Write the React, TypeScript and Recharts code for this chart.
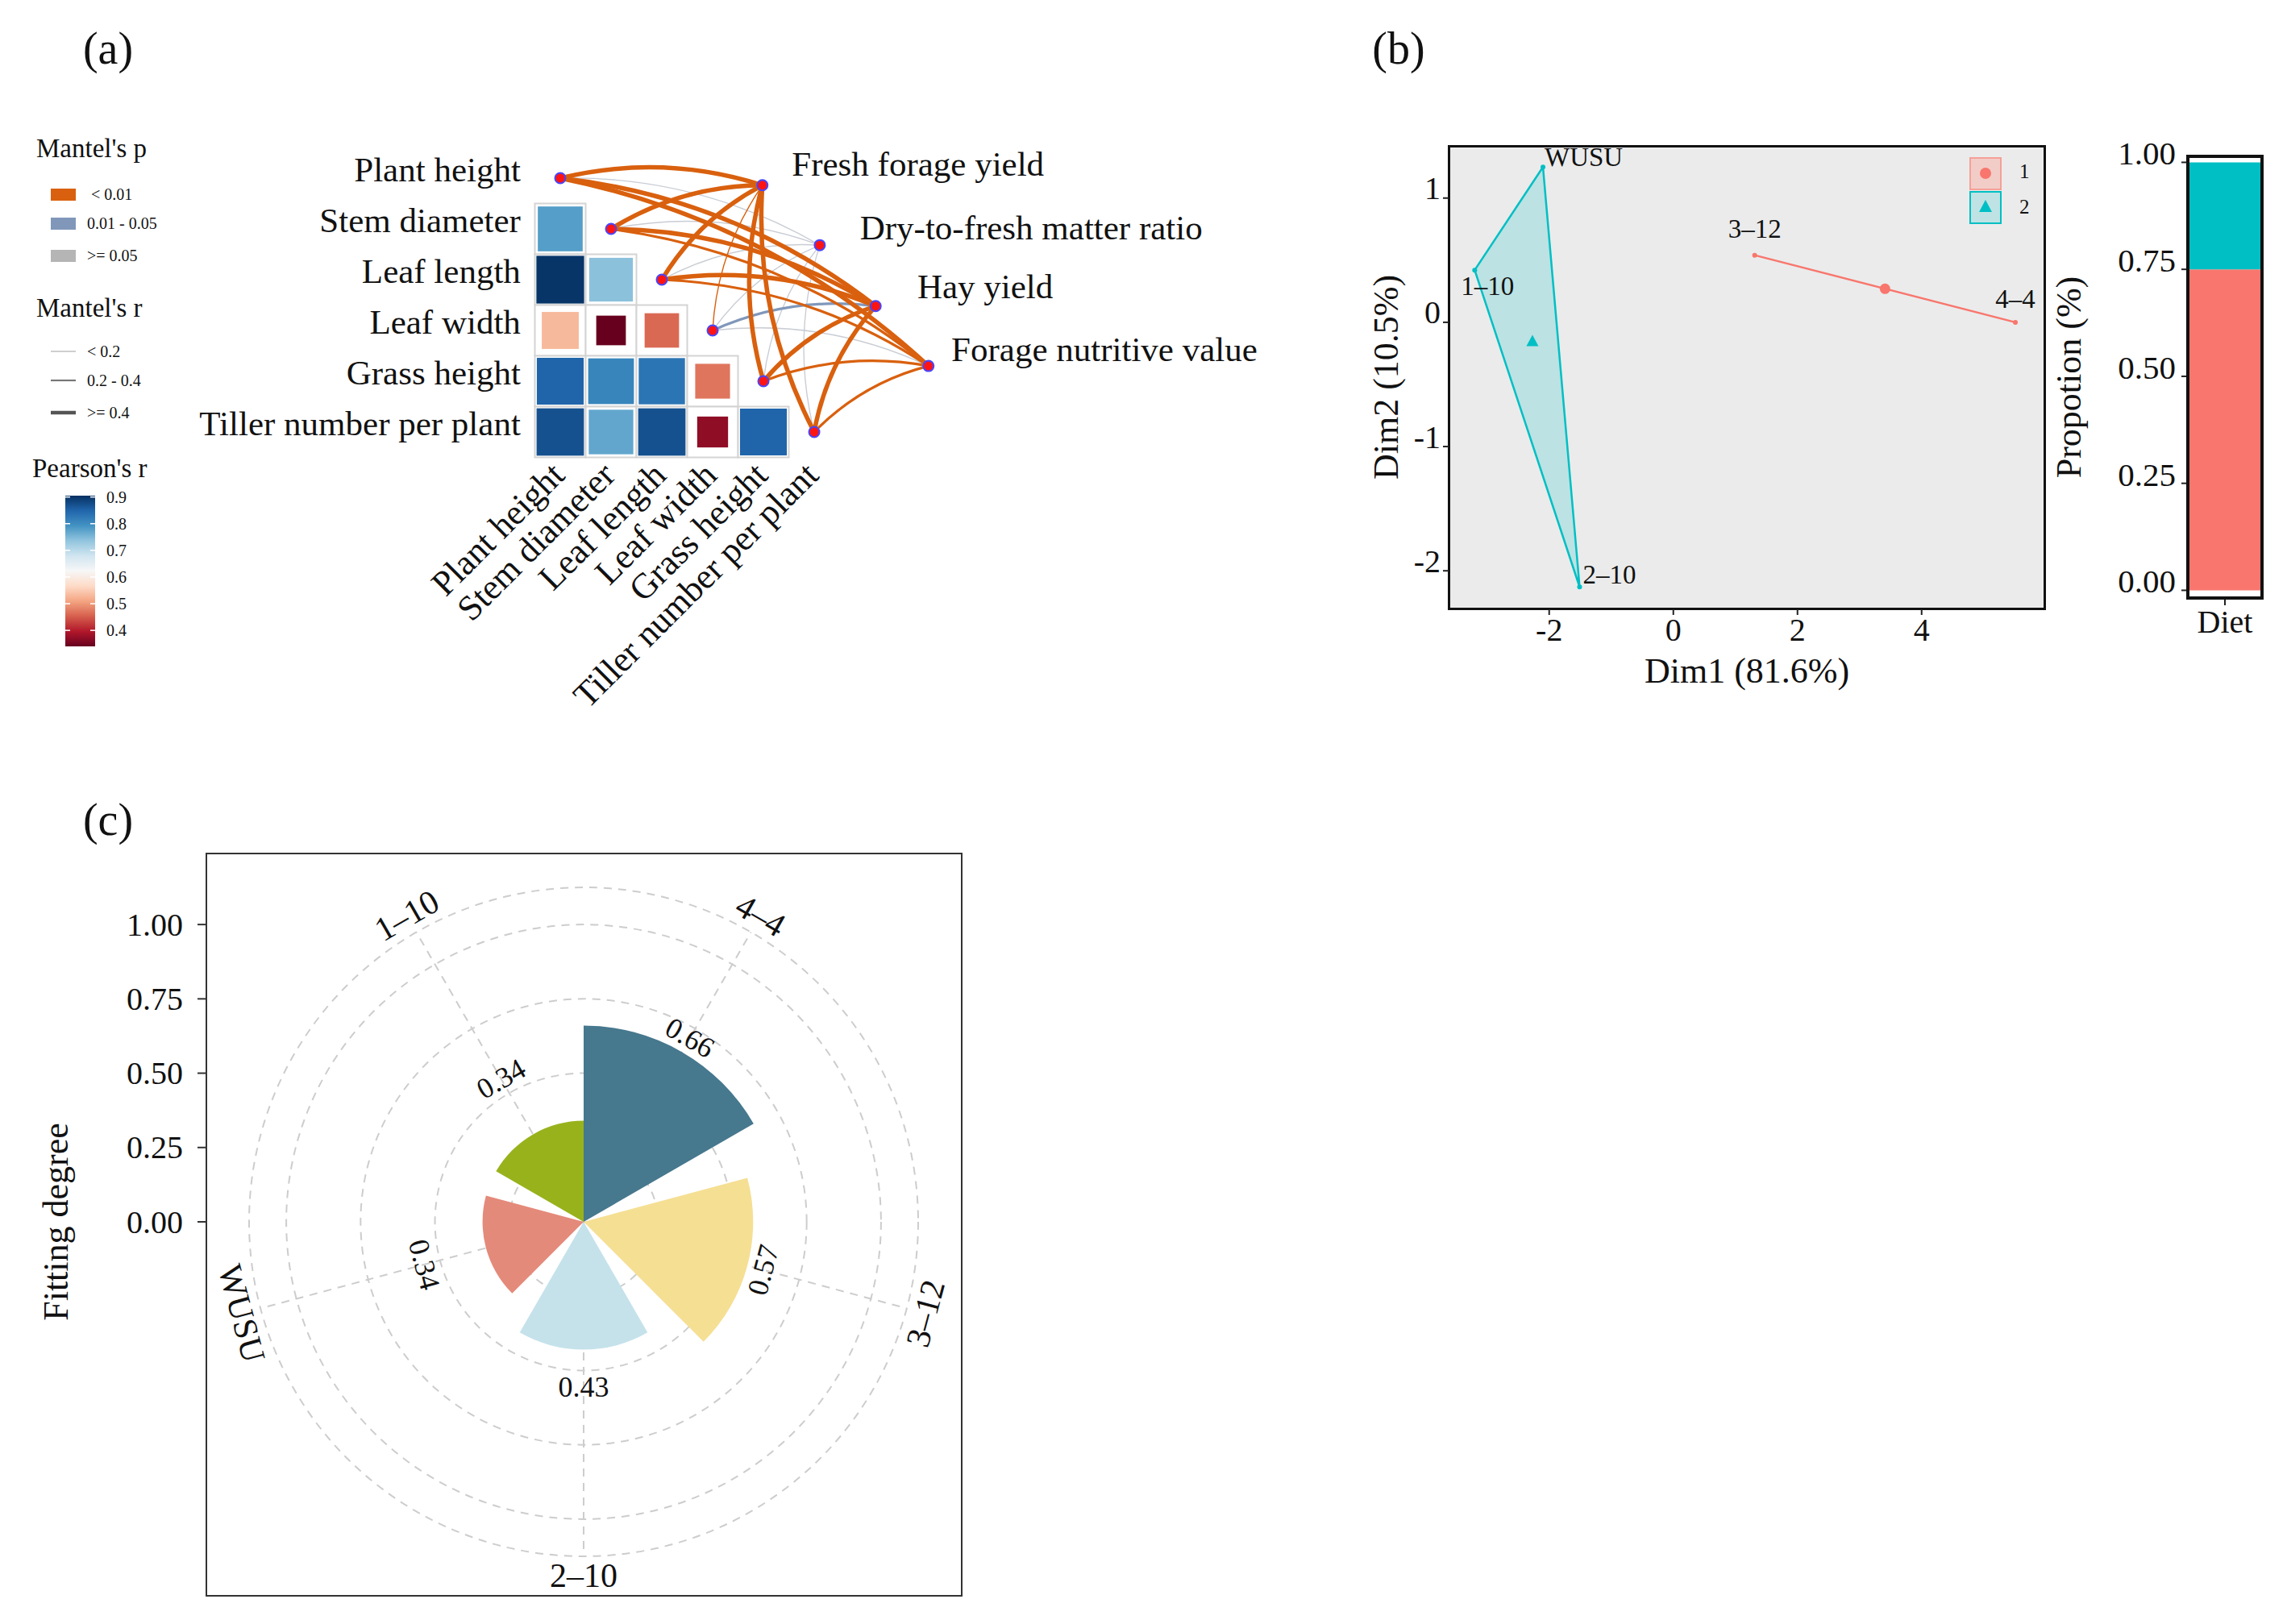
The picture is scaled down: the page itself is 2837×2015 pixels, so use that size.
import React from 'react';
import {
  ScatterChart, Scatter, XAxis, YAxis, BarChart, Bar, RadialBarChart, RadialBar,
  PolarAngleAxis, PolarRadiusAxis, PolarGrid, Cell, LabelList, ComposedChart,
} from 'recharts';

const SERIF = '"Liberation Serif", "Times New Roman", serif';
const INK = '#111111';

// ================= Panel (a) data =================
const traitNames = ['Plant height', 'Stem diameter', 'Leaf length', 'Leaf width', 'Grass height', 'Tiller number per plant'];
// Pearson's r, lower triangle (row i, column j < i)
const pearsonLower: number[][] = [
  [],
  [0.78],
  [0.90, 0.74],
  [0.53, 0.34, 0.46],
  [0.85, 0.81, 0.83, 0.47],
  [0.87, 0.77, 0.87, 0.37, 0.85],
];
const envNames = ['Fresh forage yield', 'Dry-to-fresh matter ratio', 'Hay yield', 'Forage nutritive value'];
const mantelR: number[][] = [
  [0.46, 0.48, 0.47, 0.15, 0.45, 0.47],
  [0.08, 0.10, 0.09, 0.14, 0.07, 0.12],
  [0.50, 0.49, 0.48, 0.22, 0.46, 0.45],
  [0.42, 0.36, 0.33, 0.12, 0.32, 0.31],
];
const mantelP: number[][] = [
  [0.001, 0.001, 0.001, 0.006, 0.001, 0.001],
  [0.42, 0.31, 0.55, 0.21, 0.63, 0.38],
  [0.001, 0.001, 0.001, 0.034, 0.001, 0.002],
  [0.003, 0.004, 0.006, 0.27, 0.005, 0.008],
];
// network layout (grid units: one unit = one heatmap cell)
const envNodePos = [{ x: 3.98, y: 0.14 }, { x: 5.11, y: 1.32 }, { x: 6.21, y: 2.52 }, { x: 7.25, y: 3.70 }];
const envLabelPos = [{ x: 4.56, y: -0.27 }, { x: 5.90, y: 0.97 }, { x: 7.03, y: 2.13 }, { x: 7.70, y: 3.38 }];

// ================= Panel (b) data =================
const pcaNames = ['WUSU', '1–10', '2–10', '3–12', '4–4'];
const pcaDim1 = [-2.10, -3.20, -1.51, 1.31, 5.51];
const pcaDim2 = [1.25, 0.42, -2.13, 0.54, 0.0];
const pcaCluster = [2, 2, 2, 1, 1];
const pcaXTicks = [-2, 0, 2, 4];
const pcaYTicks = [-2, -1, 0, 1];
const dietCategories = ['Diet'];
const dietCluster1 = [0.75];
const dietCluster2 = [0.25];
const propTicks = [0, 0.25, 0.5, 0.75, 1];

// ================= Panel (c) data =================
const fitNames = ['4–4', '3–12', '2–10', 'WUSU', '1–10'];
const fitValues = [0.66, 0.57, 0.43, 0.34, 0.34];
const fitColors = ['#46788E', '#F5DF93', '#C5E2EB', '#E48A7A', '#98B21C'];
const fitTicks = [0, 0.25, 0.5, 0.75, 1];

// ================= helpers =================
const RDBU = ['#67001F', '#B2182B', '#D6604D', '#F4A582', '#FDDBC7', '#F7F7F7', '#D1E5F0', '#92C5DE', '#4393C3', '#2166AC', '#053061'];
const P_MIN = 0.34, P_MAX = 0.905;
function hexToRgb(h: string) { const n = parseInt(h.slice(1), 16); return [(n >> 16) & 255, (n >> 8) & 255, n & 255]; }
function mix(a: string, b: string, t: number) {
  const A = hexToRgb(a), B = hexToRgb(b);
  const c = A.map((v, i) => Math.round(v + (B[i] - v) * t));
  return `rgb(${c[0]},${c[1]},${c[2]})`;
}
function pearsonColor(r: number) {
  let t = (r - P_MIN) / (P_MAX - P_MIN);
  t = Math.max(0, Math.min(1, t));
  const idx = t * (RDBU.length - 1);
  const i = Math.min(Math.floor(idx), RDBU.length - 2);
  return mix(RDBU[i], RDBU[i + 1], idx - i);
}
const ORANGE = '#D9600E', BLUEGREY = '#8097BA', LIGHTGREY = '#C9CDD4';
function linkColor(p: number) { return p < 0.01 ? ORANGE : p < 0.05 ? BLUEGREY : LIGHTGREY; }
function linkWidth(r: number) { return r >= 0.4 ? 5.5 : r >= 0.2 ? 3.2 : 1.4; }

// ================= Panel (a) geometry =================
const A_W = 1600, A_H = 1000, A_UNIT = 63, A_OX = 695, A_OY = 221;
const aXDomain = [-A_OX / A_UNIT, (A_W - A_OX) / A_UNIT];
const aYDomain = [-A_OY / A_UNIT, (A_H - A_OY) / A_UNIT];
const LINK_CURV = 0.14;

const cellData = pearsonLower.flatMap((row, i) => row.map((r, j) => ({ x: j, y: i, r })));
const traitNodes = traitNames.map((n, i) => ({ x: i, y: i, name: n }));
const envNodes = envNames.map((n, k) => ({ x: envNodePos[k].x, y: envNodePos[k].y, name: n }));
const rowLabels = traitNames.map((n, i) => ({ x: -0.78, y: i - 0.17, name: n }));
const colLabels = traitNames.map((n, i) => ({ x: i + 0.12, y: 5.89, name: n }));
const envLabels = envNames.map((n, k) => ({ x: envLabelPos[k].x, y: envLabelPos[k].y, name: n }));
const links = envNames.flatMap((_, k) => traitNames.map((__, i) => ({ k, i, r: mantelR[k][i], p: mantelP[k][i] })))
  .sort((a, b) => {
    const rank = (l: any) => (l.p < 0.01 ? 2 : l.p < 0.05 ? 1 : 0);
    return rank(a) - rank(b) || a.r - b.r;
  });

const CellShape = (props: any) => {
  const { cx, cy, payload } = props;
  const u = A_UNIT;
  const s = Math.min(0.94, Math.sqrt(payload.r)) * u;
  return (
    <g>
      <rect x={cx - u / 2} y={cy - u / 2} width={u} height={u} fill="#fff" stroke="#D4D4D4" strokeWidth={2} />
      <rect x={cx - s / 2} y={cy - s / 2} width={s} height={s} fill={pearsonColor(payload.r)} />
    </g>
  );
};
const emptyShape = () => <g />;
const curvedLink = (stroke: string, width: number) => (props: any) => {
  const pts = props.points || [];
  if (pts.length < 2) return <g />;
  const a = pts[0], b = pts[1];
  const dx = b.x - a.x, dy = b.y - a.y;
  const qx = (a.x + b.x) / 2 - dy * LINK_CURV;
  const qy = (a.y + b.y) / 2 + dx * LINK_CURV;
  return <path d={`M${a.x},${a.y}Q${qx},${qy} ${b.x},${b.y}`} fill="none" stroke={stroke} strokeWidth={width} strokeLinecap="round" />;
};
const NodeShape = (props: any) => <circle cx={props.cx} cy={props.cy} r={6.5} fill="#FF1414" stroke="#4646FF" strokeWidth={2} />;
const RowLabelShape = (props: any) => (
  <text x={props.cx} y={props.cy} textAnchor="end" dominantBaseline="central" fontSize={43} fontFamily={SERIF} fill={INK}>{props.payload.name}</text>
);
const ColLabelShape = (props: any) => (
  <text x={props.cx} y={props.cy} textAnchor="end" fontSize={44} fontFamily={SERIF} fill={INK} transform={`rotate(-45 ${props.cx} ${props.cy})`}>{props.payload.name}</text>
);
const EnvLabelShape = (props: any) => (
  <text x={props.cx} y={props.cy} textAnchor="start" dominantBaseline="central" fontSize={43} fontFamily={SERIF} fill={INK}>{props.payload.name}</text>
);

function PanelA() {
  return (
    <div style={{ position: 'absolute', left: 0, top: 0 }}>
      <ScatterChart width={A_W} height={A_H} margin={{ top: 0, right: 0, bottom: 0, left: 0 }}>
        <XAxis type="number" dataKey="x" domain={aXDomain} hide allowDataOverflow />
        <YAxis type="number" dataKey="y" domain={aYDomain} hide reversed allowDataOverflow />
        <Scatter data={cellData} shape={CellShape} isAnimationActive={false} />
        {links.map((l, idx) => (
          <Scatter key={`lk${idx}`} data={[{ x: envNodePos[l.k].x, y: envNodePos[l.k].y }, { x: l.i, y: l.i }]}
            line={curvedLink(linkColor(l.p), linkWidth(l.r))} shape={emptyShape} isAnimationActive={false} />
        ))}
        <Scatter data={[...traitNodes, ...envNodes]} shape={NodeShape} isAnimationActive={false} />
        <Scatter data={rowLabels} shape={RowLabelShape} isAnimationActive={false} />
        <Scatter data={colLabels} shape={ColLabelShape} isAnimationActive={false} />
        <Scatter data={envLabels} shape={EnvLabelShape} isAnimationActive={false} />
      </ScatterChart>
    </div>
  );
}

// ================= Panel (b) PCA =================
const pcaPoints = pcaNames.map((n, i) => ({ name: n, x: pcaDim1[i], y: pcaDim2[i], cluster: pcaCluster[i] }));
const cl1 = pcaPoints.filter((p) => p.cluster === 1);
const cl2 = pcaPoints.filter((p) => p.cluster === 2);
const centroidOf = (arr: any[]) => ({ x: arr.reduce((s, p) => s + p.x, 0) / arr.length, y: arr.reduce((s, p) => s + p.y, 0) / arr.length });
const TEAL = '#00BFC4', SALMON = '#F8766D';
const pcaLabelPlacement: Record<string, { anchor: string; dx: number; dy: number }> = {
  'WUSU': { anchor: 'start', dx: 2, dy: -12 },
  '1–10': { anchor: 'middle', dx: 16, dy: 20 },
  '2–10': { anchor: 'start', dx: 4, dy: -15 },
  '3–12': { anchor: 'middle', dx: 0, dy: -33 },
  '4–4': { anchor: 'middle', dx: 0, dy: -29 },
};
const vertexShape = (color: string) => (props: any) => {
  const pl = pcaLabelPlacement[props.payload.name];
  return (
    <g>
      <circle cx={props.cx} cy={props.cy} r={3} fill={color} />
      <text x={props.cx + pl.dx} y={props.cy + pl.dy} textAnchor={pl.anchor as any} dominantBaseline="central" fontSize={33} fontFamily={SERIF} fill={INK}>{props.payload.name}</text>
    </g>
  );
};
const hullLine = (props: any) => {
  const pts = props.points || [];
  if (!pts.length) return <g />;
  const d = pts.map((p: any, i: number) => `${i ? 'L' : 'M'}${p.x},${p.y}`).join('') + 'Z';
  return <path d={d} fill={TEAL} fillOpacity={0.2} stroke={TEAL} strokeWidth={2.5} strokeLinejoin="round" />;
};
const segLine = (props: any) => {
  const pts = props.points || [];
  if (!pts.length) return <g />;
  const d = pts.map((p: any, i: number) => `${i ? 'L' : 'M'}${p.x},${p.y}`).join('');
  return <path d={d} fill="none" stroke={SALMON} strokeWidth={2.5} />;
};
const CentroidCircle = (props: any) => <circle cx={props.cx} cy={props.cy} r={6.5} fill={SALMON} />;
const CentroidTriangle = (props: any) => <path d={`M${props.cx},${props.cy - 8}L${props.cx + 7.5},${props.cy + 6}L${props.cx - 7.5},${props.cy + 6}Z`} fill={TEAL} />;

const YTickLeft = (size: number, dy: number, fmt: (v: number) => string) => (props: any) => (
  <text x={props.x} y={props.y + dy} textAnchor="end" dominantBaseline="central" fontSize={size} fontFamily={SERIF} fill={INK}>{fmt(props.payload.value)}</text>
);
const XTickBelow = (size: number, fmt: (v: any) => string) => (props: any) => (
  <text x={props.x} y={props.y + size * 0.42} textAnchor="middle" dominantBaseline="central" fontSize={size} fontFamily={SERIF} fill={INK}>{fmt(props.payload.value)}</text>
);

function PanelBScatter() {
  return (
    <>
      <div style={{ position: 'absolute', left: 1796, top: 180, width: 742, height: 577, boxSizing: 'border-box', background: '#EBEBEB', border: '3px solid #111' }} />
      <div style={{ position: 'absolute', left: 1640, top: 150 }}>
        <ScatterChart width={910} height={730} margin={{ top: 31, right: 13, bottom: 0, left: 0 }}>
          <XAxis type="number" dataKey="x" domain={[-3.62, 5.99]} ticks={pcaXTicks} allowDataOverflow height={124}
            axisLine={false} tickSize={7} tickMargin={2} tickLine={{ stroke: '#222', strokeWidth: 2 }} tick={XTickBelow(40, (v) => String(v))} />
          <YAxis type="number" dataKey="y" domain={[-2.31, 1.42]} ticks={pcaYTicks} allowDataOverflow width={157}
            axisLine={false} tickSize={7} tickMargin={3} tickLine={{ stroke: '#222', strokeWidth: 2 }} tick={YTickLeft(40, -12, (v) => String(v))} />
          <Scatter data={cl2} line={hullLine} shape={vertexShape(TEAL)} isAnimationActive={false} />
          <Scatter data={cl1} line={segLine} shape={vertexShape(SALMON)} isAnimationActive={false} />
          <Scatter data={[centroidOf(cl1)]} shape={CentroidCircle} isAnimationActive={false} />
          <Scatter data={[centroidOf(cl2)]} shape={CentroidTriangle} isAnimationActive={false} />
        </ScatterChart>
      </div>
    </>
  );
}

const dietData = dietCategories.map((c, i) => ({ name: c, c1: dietCluster1[i], c2: dietCluster2[i] }));
function PanelBBar() {
  return (
    <>
      <div style={{ position: 'absolute', left: 2540, top: 150 }}>
        <BarChart width={280} height={700} data={dietData} margin={{ top: 44, right: 14, bottom: 0, left: 0 }} barCategoryGap="1%">
          <XAxis dataKey="name" height={108} axisLine={false} tickSize={9} tickMargin={4} tickLine={{ stroke: '#222', strokeWidth: 2 }} tick={XTickBelow(40, (v) => String(v))} />
          <YAxis type="number" domain={[-0.018, 1.014]} ticks={propTicks} allowDataOverflow width={174}
            axisLine={false} tickSize={8} tickMargin={7} tickLine={{ stroke: '#222', strokeWidth: 2 }} tick={YTickLeft(41, -11, (v) => v.toFixed(2))} />
          <Bar dataKey="c1" stackId="s" fill={SALMON} isAnimationActive={false} />
          <Bar dataKey="c2" stackId="s" fill={TEAL} isAnimationActive={false} />
        </BarChart>
      </div>
      <div style={{ position: 'absolute', left: 2712, top: 192, width: 96, height: 552, boxSizing: 'border-box', border: '4px solid #111' }} />
    </>
  );
}

// ================= Panel (c) =================
const C_LEFT = 255, C_TOP = 1058, C_W = 939, C_H = 923;
const C_CX = 469, C_CY = 458, C_R = 415, C_RMAX = 1.125;
const ANGLE_START = 22.5, ANGLE_END = -352.5;
const polarUnit = C_R / C_RMAX;
const fitData = fitNames.map((n, i) => ({ name: n, value: fitValues[i] }));
const bandStep = (ANGLE_START - ANGLE_END) / fitNames.length;
const spokeAngles = fitNames.map((_, k) => ANGLE_START + bandStep / 2 - bandStep * k);
function tangentRotation(angleDeg: number) {
  let rot = 90 - angleDeg;
  rot = ((rot % 360) + 360) % 360;
  if (rot > 180) rot -= 360;
  if (rot > 90) rot -= 180;
  if (rot < -90) rot += 180;
  return rot;
}
function polarLabel(props: any, radiusValue: number, text: string, size: number) {
  const vb = props.viewBox || props;
  const cx = vb.cx, cy = vb.cy;
  const mid = (vb.startAngle + vb.endAngle) / 2;
  const r = polarUnit * radiusValue;
  const rad = (-mid * Math.PI) / 180;
  const x = cx + r * Math.cos(rad), y = cy + r * Math.sin(rad);
  const rot = tangentRotation(mid);
  return (
    <text x={x} y={y} textAnchor="middle" dominantBaseline="central" fontSize={size} fontFamily={SERIF} fill={INK} transform={`rotate(${rot} ${x} ${y})`}>{text}</text>
  );
}
const renderValueLabel = (props: any) => {
  const v = Number(props.value);
  return polarLabel(props, Math.max(v, 0.5) + 0.055, v.toFixed(2), 36);
};
const renderNameLabel = (props: any) => polarLabel(props, 1.19, String(props.value), 42);

function PanelC() {
  return (
    <>
      <div style={{ position: 'absolute', left: C_LEFT, top: C_TOP }}>
        <RadialBarChart width={C_W} height={C_H} cx={C_CX} cy={C_CY} innerRadius={0} outerRadius={C_R}
          startAngle={ANGLE_START} endAngle={ANGLE_END} layout="centric" data={fitData} barCategoryGap="10%" margin={{ top: 0, right: 0, bottom: 0, left: 0 }}>
          <PolarGrid gridType="circle" stroke="#CDCDCD" strokeWidth={2} strokeDasharray="10 8" polarAngles={spokeAngles} />
          <PolarAngleAxis type="category" dataKey="name" tick={false} axisLine={false} tickLine={false} />
          <PolarRadiusAxis type="number" domain={[0, C_RMAX]} ticks={[0.25, 0.5, 0.75, 1, C_RMAX]} tick={false} axisLine={false} tickLine={false} />
          <RadialBar dataKey="value" isAnimationActive={false}>
            {fitData.map((d, i) => <Cell key={d.name} fill={fitColors[i]} />)}
            <LabelList dataKey="value" content={renderValueLabel} />
            <LabelList dataKey="name" content={renderNameLabel} />
          </RadialBar>
        </RadialBarChart>
      </div>
      <div style={{ position: 'absolute', left: C_LEFT, top: C_TOP, width: C_W, height: C_H, boxSizing: 'border-box', border: '2px solid #333' }} />
      <div style={{ position: 'absolute', left: 0, top: C_TOP + C_CY - C_R - 40 }}>
        <ComposedChart width={C_LEFT + 1} height={C_R + 80} data={fitData} margin={{ top: 40, right: 0, bottom: 40, left: 0 }}>
          <XAxis dataKey="name" hide />
          <YAxis type="number" domain={[0, C_RMAX]} ticks={fitTicks} allowDataOverflow width={C_LEFT + 1}
            axisLine={false} tickSize={11} tickMargin={18} tickLine={{ stroke: '#333', strokeWidth: 2 }} tick={YTickLeft(40, 0, (v) => v.toFixed(2))} />
        </ComposedChart>
      </div>
    </>
  );
}

// ================= Overlay texts & legends =================
const cbarTop = 615, cbarBottom = 802;
const cbarY = (v: number) => cbarTop + ((P_MAX - v) / (P_MAX - P_MIN)) * (cbarBottom - cbarTop);
const cbarTicks = [0.9, 0.8, 0.7, 0.6, 0.5, 0.4];
const mantelPLegend = [{ label: '< 0.01', color: ORANGE }, { label: '0.01 - 0.05', color: BLUEGREY }, { label: '>= 0.05', color: '#B5B5B5' }];
const mantelRLegend = [{ label: '< 0.2', w: 1.2, c: '#B0B0B0' }, { label: '0.2 - 0.4', w: 2.2, c: '#777' }, { label: '>= 0.4', w: 4.5, c: '#555' }];

function Overlay() {
  const t = (x: number, y: number, s: string, size: number, extra: any = {}) => (
    <text x={x} y={y} fontSize={size} fontFamily={SERIF} fill={INK} dominantBaseline="central" {...extra}>{s}</text>
  );
  return (
    <svg width={2837} height={2015} style={{ position: 'absolute', left: 0, top: 0, pointerEvents: 'none' }}>
      <defs>
        <linearGradient id="rdbu" x1="0" y1="0" x2="0" y2="1">
          {RDBU.slice().reverse().map((c, i) => <stop key={i} offset={`${(i / (RDBU.length - 1)) * 100}%`} stopColor={c} />)}
        </linearGradient>
      </defs>
      {t(134, 60, '(a)', 56, { textAnchor: 'middle' })}
      {t(1735, 60, '(b)', 56, { textAnchor: 'middle' })}
      {t(134, 1017, '(c)', 56, { textAnchor: 'middle' })}

      {/* legend (a) */}
      {t(45, 184, "Mantel's p", 33)}
      {mantelPLegend.map((m, i) => (
        <g key={m.label}>
          <rect x={63} y={[241, 277, 317][i] - 7} width={31} height={15} fill={m.color} />
          {t(i === 0 ? 113 : 108, [241, 277, 317][i], m.label, 20)}
        </g>
      ))}
      {t(45, 382, "Mantel's r", 33)}
      {mantelRLegend.map((m, i) => (
        <g key={m.label}>
          <line x1={63} x2={94} y1={[436, 472, 512][i]} y2={[436, 472, 512][i]} stroke={m.c} strokeWidth={m.w} />
          {t(108, [436, 472, 512][i], m.label, 20)}
        </g>
      ))}
      {t(40, 581, "Pearson's r", 33)}
      <rect x={81} y={cbarTop} width={37} height={cbarBottom - cbarTop} fill="url(#rdbu)" />
      {cbarTicks.map((v) => (
        <g key={v}>
          <line x1={81} x2={87} y1={cbarY(v)} y2={cbarY(v)} stroke="#fff" strokeWidth={1.5} />
          <line x1={112} x2={118} y1={cbarY(v)} y2={cbarY(v)} stroke="#fff" strokeWidth={1.5} />
          {t(132, cbarY(v), v.toFixed(1), 20)}
        </g>
      ))}

      {/* legend (b) */}
      <rect x={2444} y={196} width={38} height={39} fill="#F2CDC8" stroke="#F4A097" strokeWidth={2} />
      <circle cx={2463} cy={215} r={7} fill={SALMON} />
      <rect x={2444} y={238} width={38} height={39} fill="#BFE3E4" stroke={TEAL} strokeWidth={2} />
      <path d="M2463,248L2471,263L2455,263Z" fill={TEAL} />
      {t(2505, 212, '1', 25)}
      {t(2505, 256, '2', 25)}

      {/* axis titles */}
      {t(2167, 832, 'Dim1 (81.6%)', 44, { textAnchor: 'middle' })}
      {t(1719, 468, 'Dim2 (10.5%)', 44, { textAnchor: 'middle', transform: 'rotate(-90 1719 468)' })}
      {t(2566, 468, 'Propotion (%)', 44, { textAnchor: 'middle', transform: 'rotate(-90 2566 468)' })}
      {t(69, 1516, 'Fitting degree', 44, { textAnchor: 'middle', transform: 'rotate(-90 69 1516)' })}
    </svg>
  );
}

export default function App() {
  return (
    <div style={{ position: 'relative', width: 2837, height: 2015, background: '#fff', overflow: 'hidden', fontFamily: SERIF }}>
      <style>{'html,body{margin:0;padding:0;background:#fff}'}</style>
      <PanelA />
      <PanelBScatter />
      <PanelBBar />
      <PanelC />
      <Overlay />
    </div>
  );
}
